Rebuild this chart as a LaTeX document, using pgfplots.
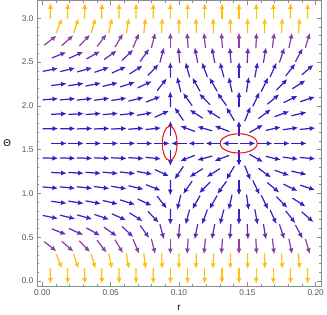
\documentclass[border=0pt]{standalone}
\usepackage{fontspec}
\setmainfont{Liberation Sans}
\usepackage{pgfplots}
\pgfplotsset{compat=1.18}
\usepackage{pgfplotstable}
\usetikzlibrary{arrows.meta}

\definecolor{framegray}{RGB}{140,140,140}
\definecolor{labelgray}{RGB}{85,85,85}
\definecolor{ovalred}{RGB}{235,28,28}

% vector field: r, Theta, screen direction of the arrow (deg), colour index
\pgfplotstableread{
x y a c
0.0059 3.0828 88.5 1
0.0185 3.0828 88.6 1
0.0310 3.0828 88.8 1
0.0435 3.0828 89.0 1
0.0561 3.0828 89.3 1
0.0686 3.0828 89.5 1
0.0812 3.0828 89.7 1
0.0937 3.0828 90 1
0.1063 3.0828 90 1
0.1188 3.0828 90 1
0.1314 3.0828 90 1
0.1439 3.0828 90 1
0.1565 3.0828 90 1
0.1690 3.0828 90 1
0.1816 3.0828 89.7 1
0.1941 3.0828 89.6 1
0.0122 2.9148 68.7 0.93
0.0247 2.9148 71.4 0.93
0.0373 2.9148 74.5 0.93
0.0498 2.9148 77.6 0.93
0.0624 2.9148 80.7 0.93
0.0749 2.9148 83.6 0.93
0.0875 2.9148 87.6 0.93
0.1000 2.9148 90.7 0.93
0.1126 2.9148 91.7 0.93
0.1251 2.9148 91.7 0.93
0.1376 2.9148 90.7 0.93
0.1502 2.9148 89.6 0.93
0.1627 2.9148 88.5 0.93
0.1753 2.9148 87.0 0.93
0.1878 2.9148 85.3 0.93
0.0059 2.7468 38.0 0.55
0.0185 2.7468 41.8 0.55
0.0310 2.7468 46.7 0.55
0.0435 2.7468 52.5 0.55
0.0561 2.7468 59.4 0.55
0.0686 2.7468 67.0 0.55
0.0812 2.7468 75.7 0.55
0.0937 2.7468 90 0.55
0.1063 2.7468 94.1 0.55
0.1188 2.7468 95.7 0.55
0.1314 2.7468 94.1 0.55
0.1439 2.7468 90 0.55
0.1565 2.7468 87.3 0.55
0.1690 2.7468 83.2 0.55
0.1816 2.7468 78.3 0.55
0.1941 2.7468 73.1 0.55
0.0122 2.5788 21.7 0.3
0.0247 2.5788 24.6 0.3
0.0373 2.5788 29.1 0.3
0.0498 2.5788 35.0 0.3
0.0624 2.5788 43.4 0.3
0.0749 2.5788 54.2 0.3
0.0875 2.5788 75.0 0.3
0.1000 2.5788 94.8 0.3
0.1126 2.5788 101.0 0.3
0.1251 2.5788 101.0 0.3
0.1376 2.5788 94.2 0.3
0.1502 2.5788 87.1 0.3
0.1627 2.5788 80.5 0.3
0.1753 2.5788 71.4 0.3
0.1878 2.5788 61.8 0.3
0.0059 2.4108 11.8 0.12
0.0185 2.4108 13.4 0.12
0.0310 2.4108 15.8 0.12
0.0435 2.4108 19.2 0.12
0.0561 2.4108 24.3 0.12
0.0686 2.4108 32.2 0.12
0.0812 2.4108 46.2 0.12
0.0937 2.4108 90.5 0.12
0.1063 2.4108 105.1 0.12
0.1188 2.4108 110.4 0.12
0.1314 2.4108 105.1 0.12
0.1439 2.4108 90 0.12
0.1565 2.4108 79.8 0.12
0.1690 2.4108 65.8 0.12
0.1816 2.4108 52.1 0.12
0.1941 2.4108 41.3 0.12
0.0122 2.2428 7.7 0
0.0247 2.2428 8.9 0
0.0373 2.2428 10.8 0
0.0498 2.2428 13.4 0
0.0624 2.2428 17.9 0
0.0749 2.2428 25.3 0
0.0875 2.2428 51.8 0
0.1000 2.2428 103.8 0
0.1126 2.2428 119.7 0
0.1251 2.2428 119.7 0
0.1376 2.2428 102.2 0
0.1502 2.2428 81.6 0
0.1627 2.2428 63.8 0
0.1753 2.2428 45.5 0
0.1878 2.2428 32.4 0
0.0059 2.0748 4.5 0
0.0185 2.0748 5.1 0
0.0310 2.0748 6.1 0
0.0435 2.0748 7.5 0
0.0561 2.0748 9.7 0
0.0686 2.0748 13.4 0
0.0812 2.0748 21.5 0
0.0937 2.0748 91 0
0.1063 2.0748 125.5 0
0.1188 2.0748 134.5 0
0.1314 2.0748 125.5 0
0.1439 2.0748 90 0
0.1565 2.0748 64.5 0
0.1690 2.0748 40.0 0
0.1816 2.0748 25.9 0
0.1941 2.0748 18.3 0
0.0122 1.9068 2.8 0
0.0247 1.9068 3.3 0
0.0373 1.9068 4.0 0
0.0498 1.9068 5.0 0
0.0624 1.9068 6.7 0
0.0749 1.9068 9.8 0
0.0875 1.9068 24.8 0
0.1000 1.9068 124.1 0
0.1126 1.9068 147.5 0
0.1251 1.9068 147.5 0
0.1376 1.9068 120.7 0
0.1502 1.9068 67.9 0
0.1627 1.9068 36.5 0
0.1753 1.9068 20.3 0
0.1878 1.9068 13.0 0
0.0059 1.7388 1.2 0
0.0185 1.7388 1.4 0
0.0310 1.7388 1.7 0
0.0435 1.7388 2.1 0
0.0561 1.7388 2.7 0
0.0686 1.7388 3.7 0
0.0812 1.7388 6.1 0
0.0937 1.7388 90 0
0.1063 1.7388 159.1 0
0.1188 1.7388 164.5 0
0.1314 1.7388 159.1 0
0.1439 1.7388 90 0
0.1565 1.7388 29.8 0
0.1690 1.7388 12.9 0
0.1816 1.7388 7.5 0
0.1941 1.7388 5.2 0
0.0122 1.5708 0 0
0.0247 1.5708 0 0
0.0373 1.5708 0 0
0.0498 1.5708 0 0
0.0624 1.5708 0 0
0.0749 1.5708 0 0
0.0875 1.5708 0 0
0.1000 1.5708 180 0
0.1126 1.5708 180 0
0.1251 1.5708 180 0
0.1376 1.5708 180 0
0.1502 1.5708 0 0
0.1627 1.5708 0 0
0.1753 1.5708 0 0
0.1878 1.5708 0 0
0.0059 1.4028 -1.2 0
0.0185 1.4028 -1.4 0
0.0310 1.4028 -1.7 0
0.0435 1.4028 -2.1 0
0.0561 1.4028 -2.7 0
0.0686 1.4028 -3.7 0
0.0812 1.4028 -6.1 0
0.0937 1.4028 -90 0
0.1063 1.4028 -159.1 0
0.1188 1.4028 -164.5 0
0.1314 1.4028 -159.1 0
0.1439 1.4028 -90 0
0.1565 1.4028 -29.8 0
0.1690 1.4028 -12.9 0
0.1816 1.4028 -7.5 0
0.1941 1.4028 -5.2 0
0.0122 1.2348 -2.8 0
0.0247 1.2348 -3.3 0
0.0373 1.2348 -4.0 0
0.0498 1.2348 -5.0 0
0.0624 1.2348 -6.7 0
0.0749 1.2348 -9.8 0
0.0875 1.2348 -24.8 0
0.1000 1.2348 -124.1 0
0.1126 1.2348 -147.5 0
0.1251 1.2348 -147.5 0
0.1376 1.2348 -120.7 0
0.1502 1.2348 -67.9 0
0.1627 1.2348 -36.5 0
0.1753 1.2348 -20.3 0
0.1878 1.2348 -13.0 0
0.0059 1.0668 -4.5 0
0.0185 1.0668 -5.1 0
0.0310 1.0668 -6.1 0
0.0435 1.0668 -7.5 0
0.0561 1.0668 -9.7 0
0.0686 1.0668 -13.4 0
0.0812 1.0668 -21.5 0
0.0937 1.0668 -91 0
0.1063 1.0668 -125.5 0
0.1188 1.0668 -134.5 0
0.1314 1.0668 -125.5 0
0.1439 1.0668 -90 0
0.1565 1.0668 -64.5 0
0.1690 1.0668 -40.0 0
0.1816 1.0668 -25.9 0
0.1941 1.0668 -18.3 0
0.0122 0.8988 -7.7 0
0.0247 0.8988 -8.9 0
0.0373 0.8988 -10.8 0
0.0498 0.8988 -13.4 0
0.0624 0.8988 -17.9 0
0.0749 0.8988 -25.3 0
0.0875 0.8988 -51.8 0
0.1000 0.8988 -103.8 0
0.1126 0.8988 -119.7 0
0.1251 0.8988 -119.7 0
0.1376 0.8988 -102.2 0
0.1502 0.8988 -81.6 0
0.1627 0.8988 -63.8 0
0.1753 0.8988 -45.5 0
0.1878 0.8988 -32.4 0
0.0059 0.7308 -11.8 0.12
0.0185 0.7308 -13.4 0.12
0.0310 0.7308 -15.8 0.12
0.0435 0.7308 -19.2 0.12
0.0561 0.7308 -24.3 0.12
0.0686 0.7308 -32.2 0.12
0.0812 0.7308 -46.2 0.12
0.0937 0.7308 -90.5 0.12
0.1063 0.7308 -105.1 0.12
0.1188 0.7308 -110.4 0.12
0.1314 0.7308 -105.1 0.12
0.1439 0.7308 -90 0.12
0.1565 0.7308 -79.8 0.12
0.1690 0.7308 -65.8 0.12
0.1816 0.7308 -52.1 0.12
0.1941 0.7308 -41.3 0.12
0.0122 0.5628 -21.7 0.3
0.0247 0.5628 -24.6 0.3
0.0373 0.5628 -29.1 0.3
0.0498 0.5628 -35.0 0.3
0.0624 0.5628 -43.4 0.3
0.0749 0.5628 -54.2 0.3
0.0875 0.5628 -75.0 0.3
0.1000 0.5628 -94.8 0.3
0.1126 0.5628 -101.0 0.3
0.1251 0.5628 -101.0 0.3
0.1376 0.5628 -94.2 0.3
0.1502 0.5628 -87.1 0.3
0.1627 0.5628 -80.5 0.3
0.1753 0.5628 -71.4 0.3
0.1878 0.5628 -61.8 0.3
0.0059 0.3948 -38.0 0.55
0.0185 0.3948 -41.8 0.55
0.0310 0.3948 -46.7 0.55
0.0435 0.3948 -52.5 0.55
0.0561 0.3948 -59.4 0.55
0.0686 0.3948 -67.0 0.55
0.0812 0.3948 -75.7 0.55
0.0937 0.3948 -90 0.55
0.1063 0.3948 -94.1 0.55
0.1188 0.3948 -95.7 0.55
0.1314 0.3948 -94.1 0.55
0.1439 0.3948 -90 0.55
0.1565 0.3948 -87.3 0.55
0.1690 0.3948 -83.2 0.55
0.1816 0.3948 -78.3 0.55
0.1941 0.3948 -73.1 0.55
0.0122 0.2268 -68.7 0.93
0.0247 0.2268 -71.4 0.93
0.0373 0.2268 -74.5 0.93
0.0498 0.2268 -77.6 0.93
0.0624 0.2268 -80.7 0.93
0.0749 0.2268 -83.6 0.93
0.0875 0.2268 -87.6 0.93
0.1000 0.2268 -90.7 0.93
0.1126 0.2268 -91.7 0.93
0.1251 0.2268 -91.7 0.93
0.1376 0.2268 -90.7 0.93
0.1502 0.2268 -89.6 0.93
0.1627 0.2268 -88.5 0.93
0.1753 0.2268 -87.0 0.93
0.1878 0.2268 -85.3 0.93
0.0059 0.0588 -88.5 1
0.0185 0.0588 -88.6 1
0.0310 0.0588 -88.8 1
0.0435 0.0588 -89.0 1
0.0561 0.0588 -89.3 1
0.0686 0.0588 -89.5 1
0.0812 0.0588 -89.7 1
0.0937 0.0588 -90 1
0.1063 0.0588 -90 1
0.1188 0.0588 -90 1
0.1314 0.0588 -90 1
0.1439 0.0588 -90 1
0.1565 0.0588 -90 1
0.1690 0.0588 -90 1
0.1816 0.0588 -89.7 1
0.1941 0.0588 -89.6 1
}\field

% red ovals round the two fixed points
\pgfplotstableread{
x y
0.0986 1.5708
0.0982 1.6454
0.0970 1.7087
0.0953 1.7510
0.0932 1.7658
0.0911 1.7510
0.0894 1.7087
0.0882 1.6454
0.0878 1.5708
0.0882 1.4962
0.0894 1.4329
0.0911 1.3906
0.0932 1.3758
0.0953 1.3906
0.0970 1.4329
0.0982 1.4962
0.0986 1.5708
}\ovalA

\pgfplotstableread{
x y
0.1573 1.5708
0.1563 1.6129
0.1533 1.6486
0.1489 1.6724
0.1437 1.6808
0.1385 1.6724
0.1341 1.6486
0.1311 1.6129
0.1301 1.5708
0.1311 1.5287
0.1341 1.4930
0.1385 1.4692
0.1437 1.4608
0.1489 1.4692
0.1533 1.4930
0.1563 1.5287
0.1573 1.5708
}\ovalB

\begin{document}
\begin{tikzpicture}
\begin{axis}[
    scale only axis,
    width=290bp, height=292bp,
    xmin=-0.004, xmax=0.204,
    ymin=-0.0628, ymax=3.2044,
    axis line style={framegray, line width=0.6bp},
    tick style={framegray, line width=0.5bp},
    tick align=inside, tick pos=both,
    major tick length=4.5bp, minor tick length=2.5bp,
    xtick={0,0.05,0.1,0.15,0.2}, minor x tick num=4,
    ytick={0,0.5,1,1.5,2,2.5,3}, minor y tick num=4,
    scaled x ticks=false,
    /pgf/number format/assume math mode=true,
    tick label style={font=\fontsize{8.5}{10}\selectfont, text=labelgray},
    xticklabel style={/pgf/number format/.cd, fixed, fixed zerofill, precision=2},
    yticklabel style={/pgf/number format/.cd, fixed, fixed zerofill, precision=1},
    xlabel={r}, ylabel={Θ},
    label style={font=\fontsize{8.5}{10}\selectfont, text=labelgray},
    every axis x label/.style={at={(axis description cs:0.5,0)}, anchor=north, yshift=-16bp},
    every axis y label/.style={at={(axis description cs:0,0.5)}, anchor=east, xshift=-23bp},
    colormap={field}{rgb255(0cm)=(52,30,196); rgb255(1.2cm)=(66,34,192); rgb255(3cm)=(98,44,184); rgb255(5.5cm)=(142,62,168); rgb255(9.3cm)=(255,190,18); rgb255(10cm)=(255,192,10)},
    point meta min=0, point meta max=1,
]
\addplot[-{Latex[length=5.8bp,width=5.2bp]}, line width=1.25bp,
    point meta=\thisrow{c},
    quiver={u={0.0114*cos(\thisrow{a})}, v={0.178*sin(\thisrow{a})}, colored=mapped color}]
    table[x expr={\thisrow{x}-0.0057*cos(\thisrow{a})}, y expr={\thisrow{y}-0.089*sin(\thisrow{a})}] {\field};
\addplot[ovalred, line width=1.1bp, smooth, no markers] table {\ovalA};
\addplot[ovalred, line width=1.1bp, smooth, no markers] table {\ovalB};
\end{axis}
\end{tikzpicture}
\end{document}
